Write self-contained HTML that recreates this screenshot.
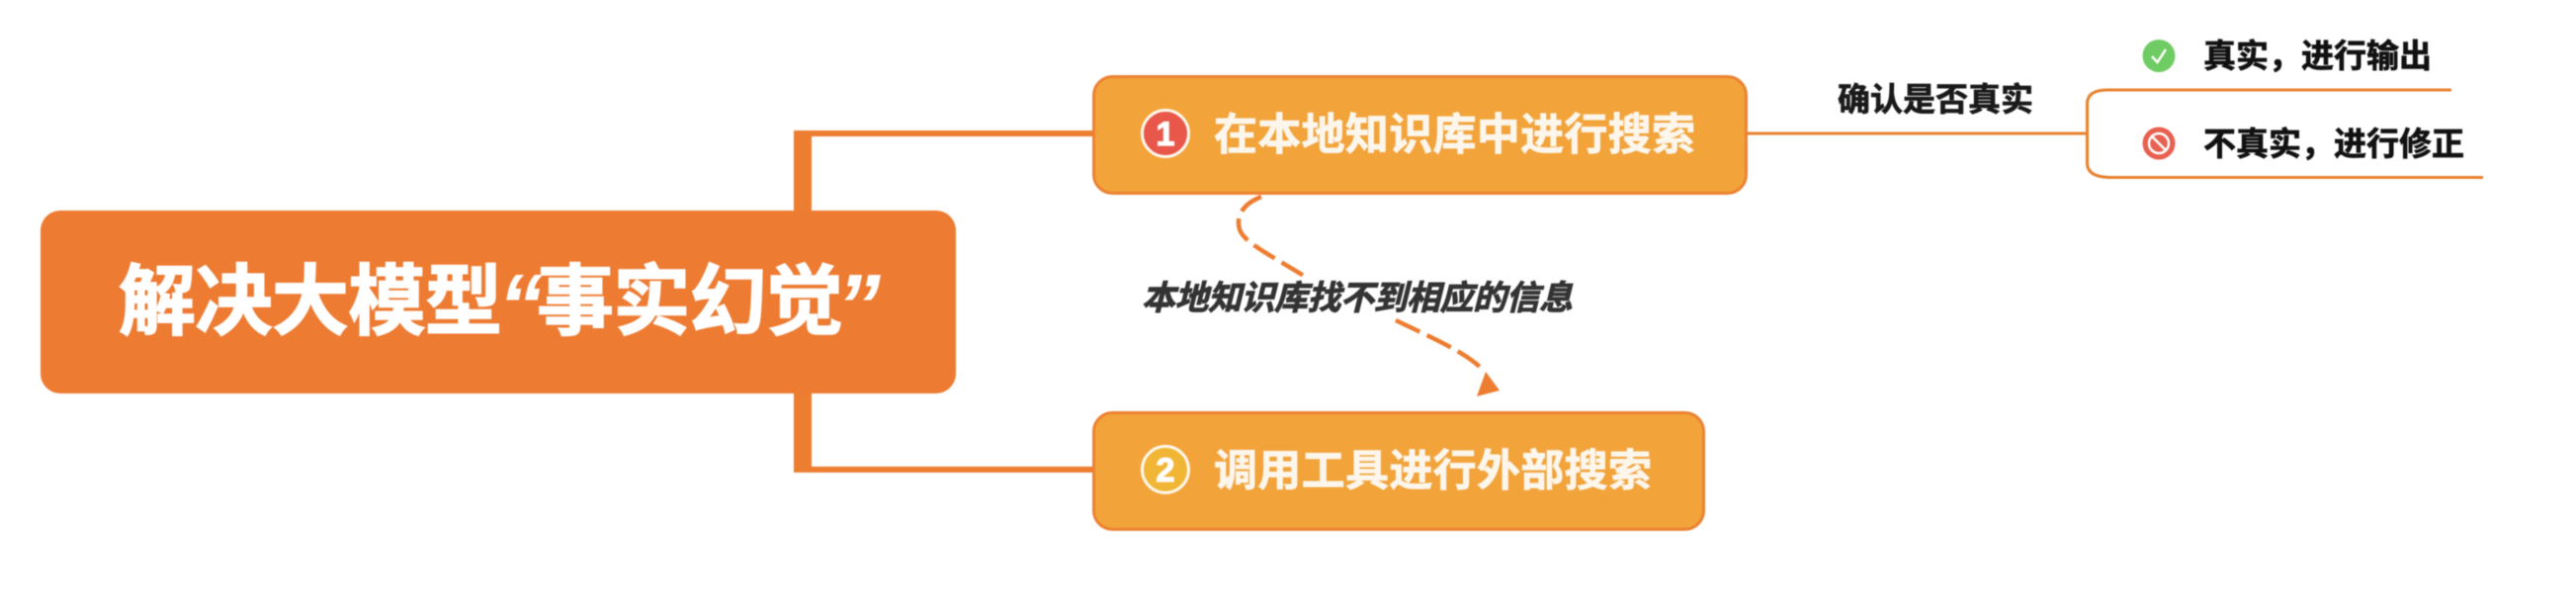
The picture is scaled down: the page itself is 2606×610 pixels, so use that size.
<!DOCTYPE html>
<html><head><meta charset="utf-8">
<style>
html,body{margin:0;padding:0;background:#fff;width:2606px;height:610px;overflow:hidden}
svg{display:block;filter:blur(.5px)}
text{font-family:"Liberation Sans","Noto Sans CJK SC",sans-serif;font-weight:700;paint-order:stroke}
</style></head>
<body>
<svg width="2606" height="610" viewBox="0 0 2606 610" xmlns="http://www.w3.org/2000/svg">
<rect width="2606" height="610" fill="#fff"/>
<!-- trunk connectors -->
<path d="M812 213V135H1106M812 398V475H1106" fill="none" stroke="#ED7D31" stroke-width="6"/>
<rect x="803" y="132" width="18" height="81" fill="#ED7D31"/>
<rect x="803" y="398" width="18" height="80" fill="#ED7D31"/>
<!-- root -->
<rect x="41" y="213" width="926" height="185" rx="20" fill="#ED7B32"/>
<g fill="#fff" stroke="#fff" stroke-width="1.6" font-size="78">
<text x="120" y="332" textLength="388" lengthAdjust="spacing">解决大模型</text>
<text x="543" y="332" textLength="310" lengthAdjust="spacing">事实幻觉</text>
</g>
<g fill="#fff" font-size="90" style="font-weight:400;font-style:italic">
<text x="504" y="340">“</text>
<text x="846" y="340">”</text>
</g>
<!-- node 1 -->
<rect x="1106.500" y="77.500" width="660" height="118" rx="19" fill="#F2A33A" stroke="#EC8232" stroke-width="3"/>
<circle cx="1179" cy="135" r="23.500" fill="#E8574A" stroke="#FFF7EC" stroke-width="3"/>
<text x="1179" y="147" font-size="34" fill="#fff" stroke="#fff" stroke-width="1.200" text-anchor="middle">1</text>
<text x="1228" y="151" font-size="44" fill="#FDF6EC" stroke="#FDF6EC" stroke-width=".8" textLength="487" lengthAdjust="spacing">在本地知识库中进行搜索</text>
<!-- node 2 -->
<rect x="1106.500" y="417.500" width="617" height="118" rx="19" fill="#F2A33A" stroke="#EC8232" stroke-width="3"/>
<circle cx="1179" cy="475" r="23.500" fill="#F2B636" stroke="#FFF7EC" stroke-width="3"/>
<text x="1179" y="487" font-size="34" fill="#fff" stroke="#fff" stroke-width="1.200" text-anchor="middle">2</text>
<text x="1228" y="491" font-size="44" fill="#FDF6EC" stroke="#FDF6EC" stroke-width=".8" textLength="443" lengthAdjust="spacing">调用工具进行外部搜索</text>
<!-- dashed relation -->
<path d="M1276 199C1258 206 1250 218 1254 232C1258 245 1285 258 1319 279" fill="none" stroke="#ED7D31" stroke-width="4.500" stroke-dasharray="25 8"/>
<path d="M1412 324C1445 340 1480 355 1498 372" fill="none" stroke="#ED7D31" stroke-width="4.500" stroke-dasharray="27 8"/>
<path d="M1503 376L1494 401L1517 395Z" fill="#ED7D31"/>
<text transform="translate(1155 313) skewX(-14)" font-size="34" fill="#333" stroke="#333" stroke-width=".9" textLength="436" lengthAdjust="spacing">本地知识库找不到相应的信息</text>
<!-- right branch -->
<path d="M1768 135H2110" fill="none" stroke="#E8822F" stroke-width="3"/>
<path d="M2480 91H2132Q2111.500 91 2111.500 105V165Q2111.500 179.500 2136 179.500H2512" fill="none" stroke="#E8822F" stroke-width="3"/>
<text x="1859" y="112" font-size="33" fill="#1a1a1a" stroke="#1a1a1a" stroke-width=".7" textLength="198" lengthAdjust="spacing">确认是否真实</text>
<circle cx="2184" cy="56.500" r="16.500" fill="#6FCB63"/>
<path d="M2177 57L2182.500 63L2191 50" fill="none" stroke="#fff" stroke-width="2.500"/>
<text x="2229" y="68" font-size="33" fill="#111" stroke="#111" stroke-width=".7" textLength="231" lengthAdjust="spacing">真实，进行输出</text>
<circle cx="2184" cy="145" r="16.500" fill="#E8604F"/>
<circle cx="2184" cy="145" r="10" fill="none" stroke="#fff" stroke-width="2.500"/>
<path d="M2177 138L2191 152" stroke="#fff" stroke-width="2.500"/>
<text x="2229" y="157" font-size="33" fill="#111" stroke="#111" stroke-width=".7" textLength="264" lengthAdjust="spacing">不真实，进行修正</text>
</svg>
</body></html>
